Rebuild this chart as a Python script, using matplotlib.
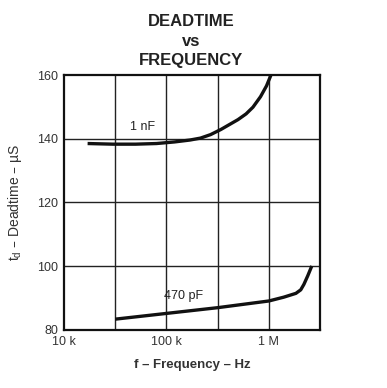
import matplotlib
matplotlib.use('Agg')
import matplotlib.pyplot as plt

plt.rcParams['font.family'] = ['Liberation Sans', 'DejaVu Sans']

# 1 nF curve
freq_1nf = [17e3, 30e3, 50e3, 80e3, 120e3, 170e3, 215e3, 270e3, 340e3, 420e3,
            500e3, 600e3, 700e3, 830e3, 950e3, 1.05e6]
td_1nf = [138.5, 138.3, 138.3, 138.5, 139.0, 139.6, 140.2, 141.3, 142.9, 144.6,
          146.0, 147.8, 149.9, 153.2, 156.6, 160.0]

# 470 pF curve
freq_470p = [31.6e3, 100e3, 316e3, 1e6, 1.4e6, 1.84e6, 2.05e6, 2.2e6, 2.4e6, 2.63e6]
td_470p = [83.4, 85.2, 87.0, 89.1, 90.3, 91.5, 92.6, 94.3, 97.0, 100.1]

xticks = [1e4, 1e5, 1e6]
xtick_labels = ['10 k', '100 k', '1 M']
yticks = [80, 100, 120, 140, 160]
xgrid = [10**4.5, 1e5, 10**5.5, 1e6]

fig = plt.figure(figsize=(3.87, 3.88), dpi=100)
ax = fig.add_axes([0.1654, 0.1495, 0.6615, 0.6572])

ax.set_xscale('log')
ax.set_xlim(1e4, 10**6.5)
ax.set_ylim(80, 160)

for x in xgrid:
    ax.axvline(x, color='#222222', lw=1.0, zorder=1)
for y in yticks[1:-1]:
    ax.axhline(y, color='#222222', lw=1.0, zorder=1)

ax.plot(freq_1nf, td_1nf, color='#111111', lw=2.4, zorder=3, solid_capstyle='butt')
ax.plot(freq_470p, td_470p, color='#111111', lw=2.4, zorder=3, solid_capstyle='butt')

ax.text(5.8e4, 143.7, '1 nF', fontsize=9, color='#222222', ha='center', va='center')
ax.text(1.47e5, 90.7, '470 pF', fontsize=9, color='#222222', ha='center', va='center')

ax.set_xticks(xticks)
ax.set_xticklabels(xtick_labels)
ax.minorticks_off()
ax.set_yticks(yticks)
ax.tick_params(length=0, labelsize=9, colors='#333333', pad=4)

for s in ax.spines.values():
    s.set_linewidth(1.6)
    s.set_color('#111111')

ax.set_xlabel('f \u2013 Frequency \u2013 Hz', fontsize=9.5, fontweight='bold', color='#333333', labelpad=8)
ax.set_ylabel('t$_\\mathregular{d}$ \u2013 Deadtime \u2013 \u00b5S', fontsize=10, color='#333333', labelpad=10)

fig.text(0.494, 0.894, 'DEADTIME\nvs\nFREQUENCY', ha='center', va='center',
         fontsize=12, fontweight='bold', color='#222222', linespacing=1.4)

fig.savefig('out.png', dpi=100)
